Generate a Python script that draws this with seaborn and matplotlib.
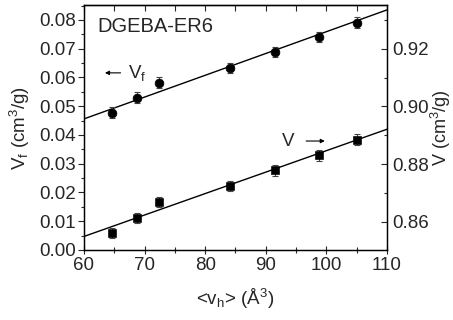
import numpy as np
import pandas as pd
import matplotlib
matplotlib.use('Agg')
import matplotlib.pyplot as plt
import seaborn as sns
from matplotlib.ticker import MultipleLocator, FormatStrFormatter

# data
vh = [64.6, 68.8, 72.4, 84.1, 91.5, 98.7, 105.0]
vf = [0.0478, 0.0530, 0.0582, 0.0634, 0.0688, 0.0740, 0.0791]
vf_err = [0.0018, 0.0018, 0.0018, 0.0018, 0.0018, 0.0018, 0.0018]
v = [0.8560, 0.8612, 0.8668, 0.8723, 0.8778, 0.8830, 0.8885]
v_err = [0.0018, 0.0018, 0.0018, 0.0018, 0.0018, 0.0018, 0.0018]
fit_x = [60, 110]
fit_vf = [0.0456, 0.0835]
fit_v = [0.8549, 0.8921]

sns.set_style('ticks')
plt.rcParams['font.family'] = ['Liberation Sans', 'DejaVu Sans']
plt.rcParams['mathtext.fontset'] = 'custom'
plt.rcParams['mathtext.rm'] = 'Liberation Sans'
plt.rcParams['mathtext.it'] = 'Liberation Sans'

df = pd.DataFrame({'vh': vh, 'vf': vf, 'v': v})
fit = pd.DataFrame({'x': fit_x, 'vf': fit_vf, 'v': fit_v})

fig = plt.figure(figsize=(4.53, 3.2), dpi=100)
ax = fig.add_axes([0.1854, 0.21875, 0.6689, 0.7656])
ax2 = ax.twinx()

sns.lineplot(data=fit, x='x', y='vf', ax=ax, color='black', linewidth=1)
ax.errorbar(vh, vf, yerr=vf_err, fmt='none', ecolor='#444444', elinewidth=0.8, capsize=2.5, capthick=0.8)
sns.scatterplot(data=df, x='vh', y='vf', ax=ax, marker='o', s=40, color='black', edgecolor='black', zorder=5)

sns.lineplot(data=fit, x='x', y='v', ax=ax2, color='black', linewidth=1)
ax2.errorbar(vh, v, yerr=v_err, fmt='none', ecolor='#444444', elinewidth=0.8, capsize=2.5, capthick=0.8)
sns.scatterplot(data=df, x='vh', y='v', ax=ax2, marker='s', s=32, color='black', edgecolor='black', zorder=5)

ax.set_xlim(60, 110)
ax.set_ylim(0, 0.0852)
ax2.set_ylim(0.8502, 0.9352)

ax.xaxis.set_major_locator(MultipleLocator(10))
ax.xaxis.set_minor_locator(MultipleLocator(5))
ax.yaxis.set_major_locator(MultipleLocator(0.01))
ax.yaxis.set_minor_locator(MultipleLocator(0.005))
ax.yaxis.set_major_formatter(FormatStrFormatter('%.2f'))
ax2.yaxis.set_major_locator(MultipleLocator(0.02))
ax2.yaxis.set_minor_locator(MultipleLocator(0.01))
ax2.yaxis.set_major_formatter(FormatStrFormatter('%.2f'))

ax.tick_params(axis='x', which='major', direction='inout', length=6, width=0.8, labelsize=13.5, top=False, pad=2)
ax.tick_params(axis='x', which='minor', direction='inout', length=4, width=0.8)
ax.tick_params(axis='y', which='major', direction='out', length=4, width=0.8, labelsize=13.5, pad=2)
ax.tick_params(axis='y', which='minor', direction='out', length=2.5, width=0.8)
ax2.tick_params(axis='y', which='major', direction='in', length=4, width=0.8, labelsize=13.5, pad=4)
ax2.tick_params(axis='y', which='minor', direction='in', length=2.5, width=0.8)

# top ticks pointing in
sec = ax.secondary_xaxis('top')
sec.xaxis.set_major_locator(MultipleLocator(5))
sec.tick_params(direction='in', length=4, width=0.8, labeltop=False)

for a in (ax, ax2):
    for s in a.spines.values():
        s.set_linewidth(0.9)
        s.set_color('black')
sec.spines['top'].set_linewidth(0.9)

ax.set_xlabel(r'<v$_\mathregular{h}$> ($\mathregular{\AA^3}$)', fontsize=13.5, labelpad=9)
ax.set_ylabel(r'V$_\mathregular{f}$ (cm$^\mathregular{3}$/g)', fontsize=13.5, labelpad=5)
ax2.set_ylabel(r'V (cm$^\mathregular{3}$/g)', fontsize=13, labelpad=0)

ax.text(62.2, 0.0778, 'DGEBA-ER6', fontsize=14.5, va='center')
ax.annotate('', xy=(63.0, 0.0616), xytext=(66.5, 0.0616),
            arrowprops=dict(arrowstyle='-|>', color='black', lw=0.8, mutation_scale=6))
ax.text(67.3, 0.0616, r'V$_\mathregular{f}$', fontsize=13.5, va='center')
ax.text(92.6, 0.0376, 'V', fontsize=13.5, va='center')
ax.annotate('', xy=(100.2, 0.0379), xytext=(96.2, 0.0379),
            arrowprops=dict(arrowstyle='-|>', color='black', lw=0.8, mutation_scale=6))

fig.savefig('out.png', dpi=100)
